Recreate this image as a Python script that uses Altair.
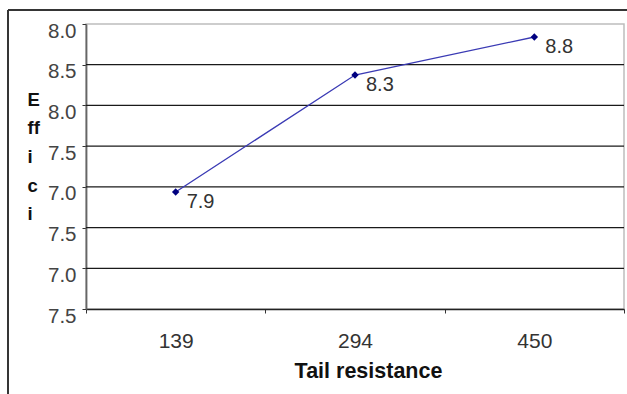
import altair as alt
import pandas as pd

# Series: efficiency measured at three tail-resistance settings
resistance = ["139", "294", "450"]
efficiency = [7.9, 8.3, 8.8]

# Horizontal reference levels of the value axis and their printed labels
levels = [0, 1, 2, 3, 4, 5, 6, 7]
level_labels = ["7.5", "7.0", "7.5", "7.0", "7.5", "8.0", "8.5", "8.0"]

y_title_lines = ["E", "ff", "i", "c", "i"]
x_title = "Tail resistance"

FONT = "Liberation Sans"

series = pd.DataFrame({"resistance": resistance, "efficiency": efficiency})
grid = pd.DataFrame({"level": levels})

label_expr = "[" + ",".join(f"'{t}'" for t in level_labels) + "][datum.value]"

x_enc = alt.X(
    "resistance:N",
    sort=resistance,
    scale=alt.Scale(paddingInner=0, paddingOuter=0),
    axis=alt.Axis(
        title=x_title,
        labelAngle=0,
        tickBand="extent",
        tickSize=4,
        tickColor="#333",
        domainColor="#222",
        domainWidth=1.5,
        labelFont=FONT,
        labelFontSize=21,
        labelColor="#333",
        labelBaseline="alphabetic",
        labelPadding=34,
        titleFont=FONT,
        titleFontSize=21.5,
        titleFontWeight="bold",
        titleColor="#111",
        titleBaseline="alphabetic",
        titleAlign="center",
        titleX=282,
        titleY=68,
        grid=False,
    ),
)

# Gridlines plus the value axis, on their own evenly spaced scale
grid_layer = (
    alt.Chart(grid)
    .transform_filter("datum.level > 0 && datum.level < 7")
    .mark_rule(color="#1a1a1a", strokeWidth=1.3)
    .encode(
        y=alt.Y(
            "level:Q",
            scale=alt.Scale(domain=[0, 7], nice=False, zero=False),
            axis=alt.Axis(
                values=levels,
                labelExpr=label_expr,
                grid=False,
                tickSize=4,
                tickColor="#333",
                domainColor="#666",
                domainWidth=1.8,
                labelFont=FONT,
                labelFontSize=20.5,
                labelColor="#444",
                labelBaseline="middle",
                labelOffset=7,
                labelPadding=6,
                title=y_title_lines,
                titleAngle=0,
                titleFont=FONT,
                titleFontSize=18.5,
                titleFontWeight="bold",
                titleColor="#111",
                titleAlign="left",
                titleBaseline="alphabetic",
                titleLineHeight=28.7,
                titleX=-59,
                titleY=81,
            ),
        )
    )
)

# Piecewise value scale for the series
y_scale = alt.Scale(domain=efficiency, range=[168, 51, 13], nice=False, zero=False)
y_enc = alt.Y("efficiency:Q", scale=y_scale, axis=None)

base = alt.Chart(series).encode(x=x_enc, y=y_enc)
line = base.mark_line(color="#3a3ab4", strokeWidth=1.3)
points = base.mark_point(shape="diamond", filled=True, size=55, color="#000080", opacity=1)
labels = base.mark_text(
    align="left", baseline="middle", dx=11, dy=10,
    font=FONT, fontSize=20, color="#333",
).encode(text=alt.Text("efficiency:Q", format=".1f"))

data_layer = alt.layer(line, points, labels)

# Outer frame lines around the figure
frame_top = alt.Chart(series).mark_rule(color="#333", strokeWidth=1.5).encode(
    x=alt.value(-78), x2=alt.value(541), y=alt.value(-14)
)
frame_left = alt.Chart(series).mark_rule(color="#333", strokeWidth=1.5).encode(
    x=alt.value(-78), y=alt.value(-14), y2=alt.value(370)
)

chart = (
    alt.layer(grid_layer, data_layer, frame_top, frame_left)
    .resolve_scale(y="independent")
    .properties(
        width=538,
        height=285,
        autosize=alt.AutoSizeParams(type="none"),
        padding={"left": 86, "top": 24, "right": 3, "bottom": 85},
        background="white",
    )
    .configure_view(stroke="#bdbdbd", strokeWidth=1.5)
)

chart.save("out.html", embed_options={"renderer": "svg", "actions": False})
